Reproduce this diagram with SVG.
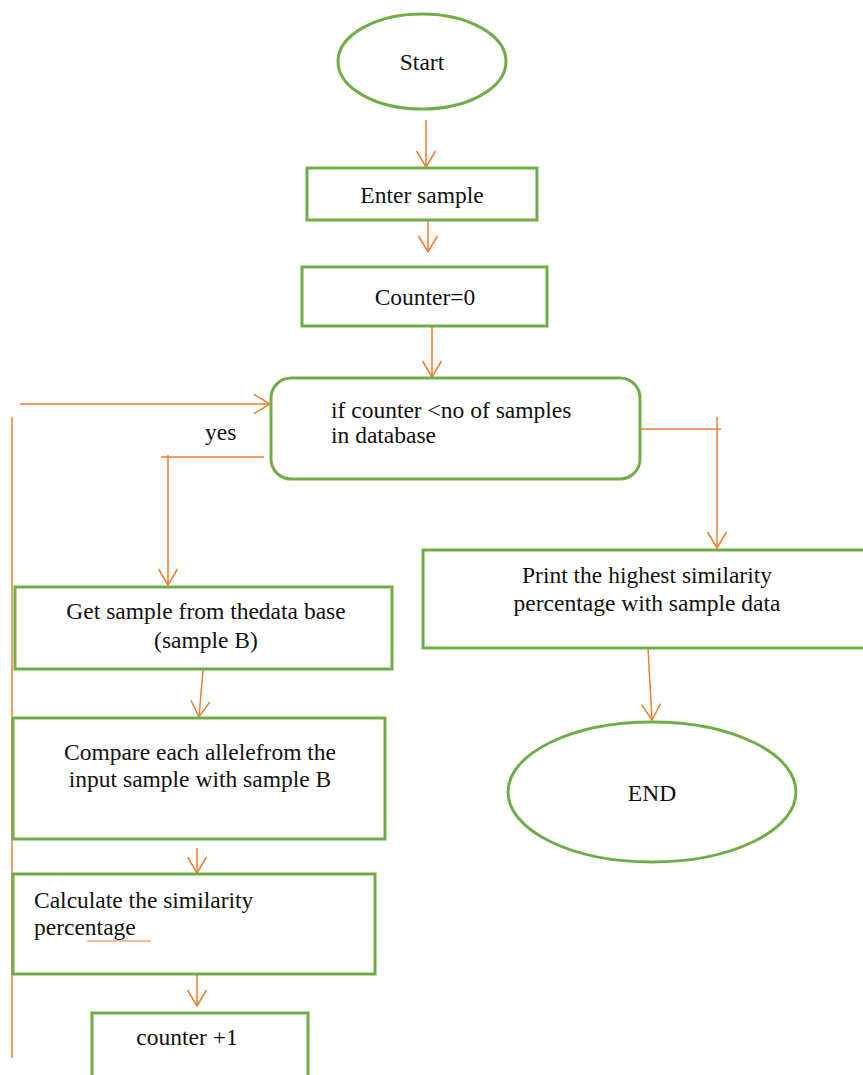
<svg xmlns="http://www.w3.org/2000/svg" width="863" height="1075" viewBox="0 0 863 1075">
<style>
.n{fill:#fff;stroke:#70AD47;stroke-width:3}
.c{fill:none;stroke:#ED7D31;stroke-width:1.5}
.t{font-family:"Liberation Serif","Times New Roman",serif;font-size:23.5px;fill:#111}
.m{text-anchor:middle}
</style>
<defs>
<marker id="ah" viewBox="-17 -11 18 22" refX="0" refY="0" markerWidth="18" markerHeight="22" markerUnits="userSpaceOnUse" orient="auto">
<path d="M-16,-9.5 L0,0 L-16,9.5" fill="none" stroke="#ED7D31" stroke-width="1.5"/>
</marker>
</defs>
<rect width="863" height="1075" fill="#fff"/>
<g id="connectors">
<line class="c" x1="426" y1="120" x2="426" y2="167" marker-end="url(#ah)"/>
<line class="c" x1="428" y1="220" x2="428" y2="252" marker-end="url(#ah)"/>
<line class="c" x1="432" y1="326" x2="432" y2="377" marker-end="url(#ah)"/>
<line class="c" x1="20" y1="404" x2="270" y2="404" marker-end="url(#ah)"/>
<line class="c" x1="12" y1="417" x2="12" y2="1058"/>
<line class="c" x1="161" y1="457" x2="264" y2="457"/>
<line class="c" x1="168" y1="455" x2="168" y2="585" marker-end="url(#ah)"/>
<line class="c" x1="640" y1="429" x2="721" y2="429"/>
<line class="c" x1="717" y1="417" x2="717" y2="548" marker-end="url(#ah)"/>
<line class="c" x1="648" y1="648" x2="652" y2="720" marker-end="url(#ah)"/>
<line class="c" x1="203" y1="670" x2="199" y2="717" marker-end="url(#ah)"/>
<line class="c" x1="197" y1="848" x2="197" y2="873" marker-end="url(#ah)"/>
<line class="c" x1="197" y1="974" x2="197" y2="1006" marker-end="url(#ah)"/>
</g>
<g id="start">
<ellipse class="n" cx="422" cy="61.5" rx="84" ry="47.5"/>
<text class="t m" x="422" y="70">Start</text>
</g>
<g id="enter">
<rect class="n" x="307" y="168" width="230" height="52"/>
<text class="t m" x="422" y="203">Enter sample</text>
</g>
<g id="counter0">
<rect class="n" x="302" y="267" width="245" height="59"/>
<text class="t m" x="425" y="305">Counter=0</text>
</g>
<g id="decision">
<rect class="n" x="271" y="378" width="369" height="101" rx="20" ry="20"/>
<text class="t" x="331" y="418">if counter &lt;no of samples</text>
<text class="t" x="331" y="443">in database</text>
</g>
<g id="yes-label">
<text class="t" x="205" y="440">yes</text>
</g>
<g id="getsample">
<rect class="n" x="15" y="587" width="377" height="82"/>
<text class="t m" x="206" y="619">Get sample from thedata base</text>
<text class="t m" x="206" y="648">(sample B)</text>
</g>
<g id="compare">
<rect class="n" x="13" y="718" width="372" height="121"/>
<text class="t m" x="200" y="760">Compare each allelefrom the</text>
<text class="t m" x="200" y="787">input sample with sample B</text>
</g>
<g id="calculate">
<rect class="n" x="13" y="874" width="362" height="100"/>
<text class="t" x="34" y="908">Calculate the similarity</text>
<text class="t" x="34" y="935">percentage</text>
<line x1="87" y1="941" x2="151" y2="941" stroke="#ED7D31" stroke-width="1.2"/>
</g>
<g id="counterplus">
<rect class="n" x="92" y="1013" width="216" height="70"/>
<text class="t m" x="187" y="1045">counter +1</text>
</g>
<g id="print">
<rect class="n" x="423" y="550" width="445" height="98"/>
<text class="t m" x="647" y="583">Print the highest similarity</text>
<text class="t m" x="647" y="611">percentage with sample data</text>
</g>
<g id="end">
<ellipse class="n" cx="652" cy="792" rx="144" ry="70"/>
<text class="t m" x="652" y="801">END</text>
</g>
</svg>
